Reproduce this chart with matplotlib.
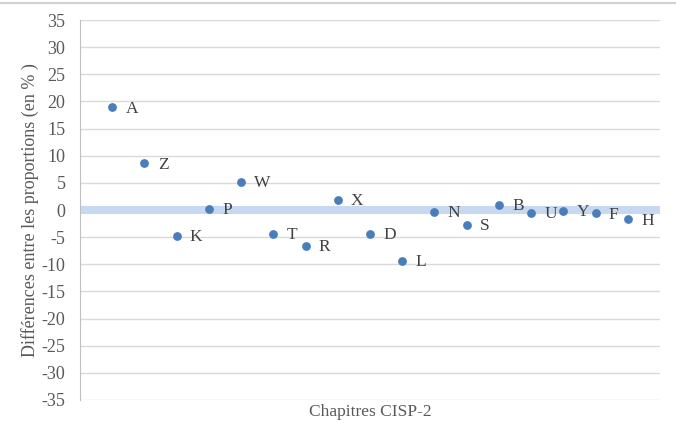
import matplotlib
matplotlib.use("Agg")
import matplotlib.pyplot as plt
from matplotlib.lines import Line2D

labels = ["A", "Z", "K", "P", "W", "T", "R", "X", "D", "L", "N", "S", "B", "U", "Y", "F", "H"]
values = [18.9, 8.6, -4.8, 0.2, 5.2, -4.4, -6.6, 1.85, -4.4, -9.4, -0.3, -2.7, 1.0, -0.55, -0.2, -0.6, -1.7]
yticks = list(range(-35, 40, 5))

plt.rcParams['font.family'] = ['Liberation Serif', 'DejaVu Serif']

fig = plt.figure(figsize=(6.76, 4.38), dpi=100)
ax = fig.add_axes([80/676, 38/438, 580/676, 380/438])

x = list(range(1, len(values) + 1))
ax.set_xlim(0, len(values) + 1)
ax.set_ylim(-35, 35)
ax.set_yticks(yticks)
ax.set_yticklabels([str(t) for t in yticks], fontsize=13, color='#595959')
ax.set_xticks([])
ax.yaxis.grid(True, color='#d9d9d9', linewidth=1)
ax.set_axisbelow(True)
ax.tick_params(axis='y', length=0, pad=10.5)
for s in ['top', 'right', 'bottom']:
    ax.spines[s].set_visible(False)
ax.spines['left'].set_color('#bfbfbf')

ax.axhline(0, color='#c6d9f0', linewidth=5.8, zorder=1.5)

ax.scatter(x, values, s=40, color='#4a7ebb', zorder=3, linewidths=0)
for xi, v, lab in zip(x, values, labels):
    ax.annotate(lab, (xi, v), xytext=(9.5, -1), textcoords='offset points',
                ha='left', va='center', fontsize=12.5, color='#404040', zorder=4)

ax.set_ylabel("Différences entre les proportions (en % )", fontsize=13, color='#595959', labelpad=2)
ax.set_xlabel("Chapitres CISP-2", fontsize=12.5, color='#595959', labelpad=3)

fig.add_artist(Line2D([0, 1], [1 - 2.5/438, 1 - 2.5/438], color='#d0d0d0', linewidth=1.5))

fig.savefig("out.png", dpi=100)
